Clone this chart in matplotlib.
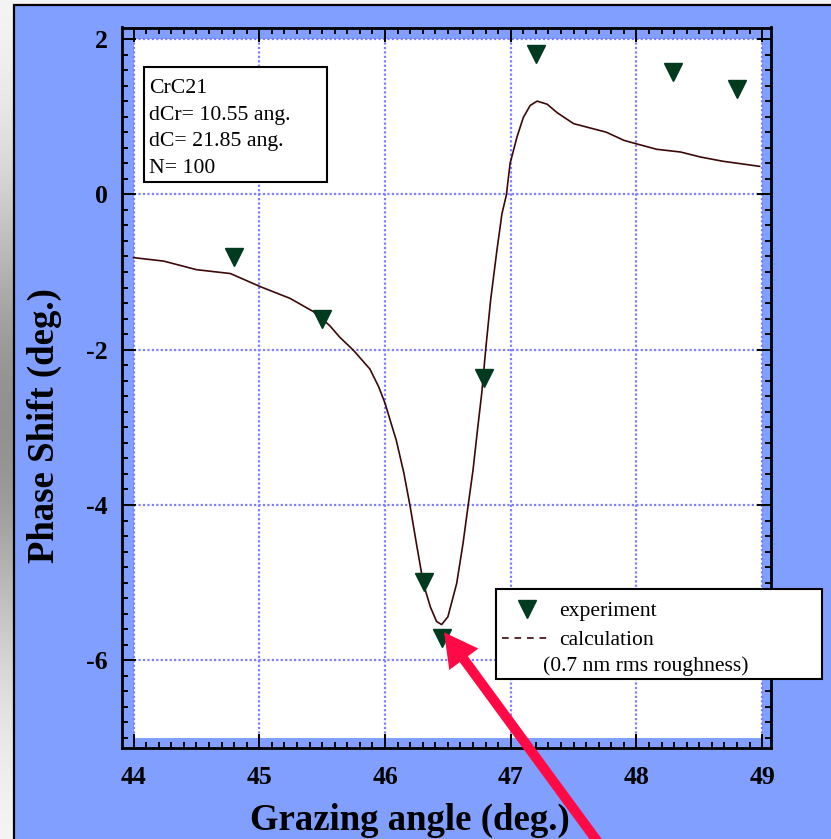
import numpy as np
import matplotlib
matplotlib.use("Agg")
import matplotlib.pyplot as plt
from matplotlib.patches import Rectangle
from matplotlib.lines import Line2D

plt.rcParams["axes.unicode_minus"] = False
SERIF = ["Liberation Serif", "DejaVu Serif"]

# measured phase shift (deg.) vs grazing angle (deg.)
exp_angle = [44.80, 45.50, 46.31, 46.45, 46.79, 47.20, 48.29, 48.80]
exp_phase = [-0.81, -1.60, -4.99, -5.71, -2.36, 1.81, 1.57, 1.36]

# calculated phase shift, 0.7 nm rms roughness
calc_angle = [44.00, 44.24, 44.50, 44.77, 45.01, 45.245, 45.43, 45.56, 45.64,
              45.75, 45.88, 45.95, 46.00, 46.09, 46.15, 46.20, 46.25, 46.305,
              46.36, 46.41, 46.45, 46.50, 46.57, 46.62, 46.66, 46.70, 46.735,
              46.77, 46.80, 46.84, 46.89, 46.93, 46.965, 46.995, 47.05, 47.10,
              47.155, 47.21, 47.29, 47.37, 47.50, 47.63, 47.76, 47.90, 48.00,
              48.16, 48.35, 48.51, 48.69, 48.825, 48.98]
calc_phase = [-0.815, -0.86, -0.97, -1.02, -1.19, -1.34, -1.51, -1.69, -1.84,
              -2.01, -2.25, -2.48, -2.69, -3.17, -3.59, -4.02, -4.50, -5.01,
              -5.31, -5.50, -5.54, -5.44, -5.01, -4.50, -4.02, -3.55, -3.04,
              -2.55, -2.01, -1.36, -0.72, -0.25, -0.01, 0.40, 0.74, 0.99,
              1.145, 1.20, 1.16, 1.05, 0.91, 0.855, 0.80, 0.695, 0.65,
              0.58, 0.545, 0.48, 0.425, 0.395, 0.36]

sample_lines = ["CrC21", "dCr= 10.55 ang.", "dC= 21.85 ang.", "N= 100"]
x_ticks = [44, 45, 46, 47, 48, 49]
y_ticks = [-6, -4, -2, 0, 2]

BLUE = "#809fff"
GRID = "#7d7dff"
MARK = "#003b1f"
CURVE = "#3d0808"
RED = "#ff0a45"

W, H = 831, 839
fig = plt.figure(figsize=(W / 100, H / 100), dpi=100)


def fx(px):
    return px / W


def fy(py):
    return 1 - py / H


# slide background: grey vertical shading with blue panel on top
bg = fig.add_axes([0, 0, 1, 1], zorder=-10)
yy = np.linspace(0, 1, 400)
shade = 0.97 - 0.40 * np.exp(-((yy - 0.5) / 0.28) ** 2)
bg.imshow(shade[:, None], extent=[0, 1, 0, 1], aspect="auto", cmap="gray",
          vmin=0, vmax=1, origin="upper")
bg.add_patch(Rectangle((fx(14), -0.01), 1.0, fy(5) + 0.01, facecolor=BLUE,
                       edgecolor="black", lw=1.6))
bg.set_xlim(0, 1)
bg.set_ylim(0, 1)
bg.axis("off")

# main plot frame
ax = fig.add_axes([fx(122), fy(748), fx(771) - fx(122), fy(27.5) - fy(748)])
ax.set_facecolor(BLUE)
ax.set_xlim(43.908, 49.07)
ax.set_ylim(-7.129, 2.148)

ax.add_patch(Rectangle((44, -7), 5, 9, facecolor="white", edgecolor="none",
                       zorder=0))
ax.vlines(x_ticks, -7, 2, colors=GRID, lw=1.6, linestyles=(0, (1, 1)), zorder=1)
ax.hlines([-6, -4, -2, 0, 2], 44, 49, colors=GRID, lw=1.6,
          linestyles=(0, (1, 1)), zorder=1)

ax.plot(calc_angle, calc_phase, color=CURVE, lw=1.2, zorder=3)
ax.plot(exp_angle, exp_phase, linestyle="none", marker="v", markersize=12.5,
        color=MARK, zorder=4)

ax.set_xticks(x_ticks)
ax.set_yticks(y_ticks)
ax.set_xticks(np.round(np.arange(44, 49.01, 0.1), 2), minor=True)
ax.set_yticks(np.round(np.arange(-7, 2.01, 0.2), 2), minor=True)
ax.set_xticklabels([str(v) for v in x_ticks])
ax.set_yticklabels([str(v) for v in y_ticks])
ax.tick_params(which="both", direction="in", top=True, right=True,
               width=1.4, color="black")
ax.tick_params(which="major", length=10)
ax.tick_params(which="minor", length=4.5)
ax.tick_params(axis="x", which="major", pad=13)
ax.tick_params(axis="y", which="major", pad=10)
for lab in ax.get_xticklabels() + ax.get_yticklabels():
    lab.set_fontfamily(SERIF)
    lab.set_fontweight("bold")
    lab.set_fontsize(18.5)
for sp in ax.spines.values():
    sp.set_linewidth(2)

fig.text(fx(410), fy(830), "Grazing angle (deg.)", ha="center", va="baseline",
         fontsize=26.5, fontweight="bold", family=SERIF)
fig.text(fx(44), fy(426), "Phase Shift (deg.)", ha="center", va="center",
         rotation=90, fontsize=26.5, fontweight="bold", family=SERIF)

# sample description box
fig.add_artist(Rectangle((fx(144), fy(182)), fx(327) - fx(144),
                         fy(67) - fy(182), transform=fig.transFigure,
                         facecolor="white", edgecolor="black", lw=1.5,
                         zorder=6))
for i, line in enumerate(sample_lines):
    fig.text(fx(149), fy(93 + 26.7 * i), line, ha="left", va="baseline",
             fontsize=15.7, family=SERIF, zorder=7)

# legend
fig.add_artist(Rectangle((fx(496), fy(679)), fx(822) - fx(496),
                         fy(589) - fy(679), transform=fig.transFigure,
                         facecolor="white", edgecolor="black", lw=1.5,
                         zorder=6))
fig.add_artist(Line2D([fx(527)], [fy(609)], marker="v", markersize=12.5,
                      color=MARK, linestyle="none",
                      transform=fig.transFigure, zorder=7))
fig.add_artist(Line2D([fx(502), fx(547)], [fy(638), fy(638)], color=CURVE,
                      lw=1.2, linestyle=(0, (4, 3.5)),
                      transform=fig.transFigure, zorder=7))
fig.text(fx(559), fy(616), "experiment", ha="left", va="baseline",
         fontsize=15.6, family=SERIF, zorder=7)
fig.text(fx(559), fy(645), "calculation", ha="left", va="baseline",
         fontsize=15.6, family=SERIF, zorder=7)
fig.text(fx(543), fy(671), "(0.7 nm rms roughness)", ha="left",
         va="baseline", fontsize=15.6, family=SERIF, zorder=7)

# arrow pointing at the deepest measured point
ax.annotate("", xy=(exp_angle[3] + 0.02, exp_phase[3] + 0.07), xycoords="data",
            xytext=(600, -6), textcoords="figure pixels",
            annotation_clip=False,
            arrowprops=dict(arrowstyle="simple,head_length=2.4,head_width=2.6,"
                                       "tail_width=0.72",
                            mutation_scale=10, color=RED, lw=0,
                            shrinkA=0, shrinkB=0), zorder=8)

fig.savefig("out.png", dpi=100)
